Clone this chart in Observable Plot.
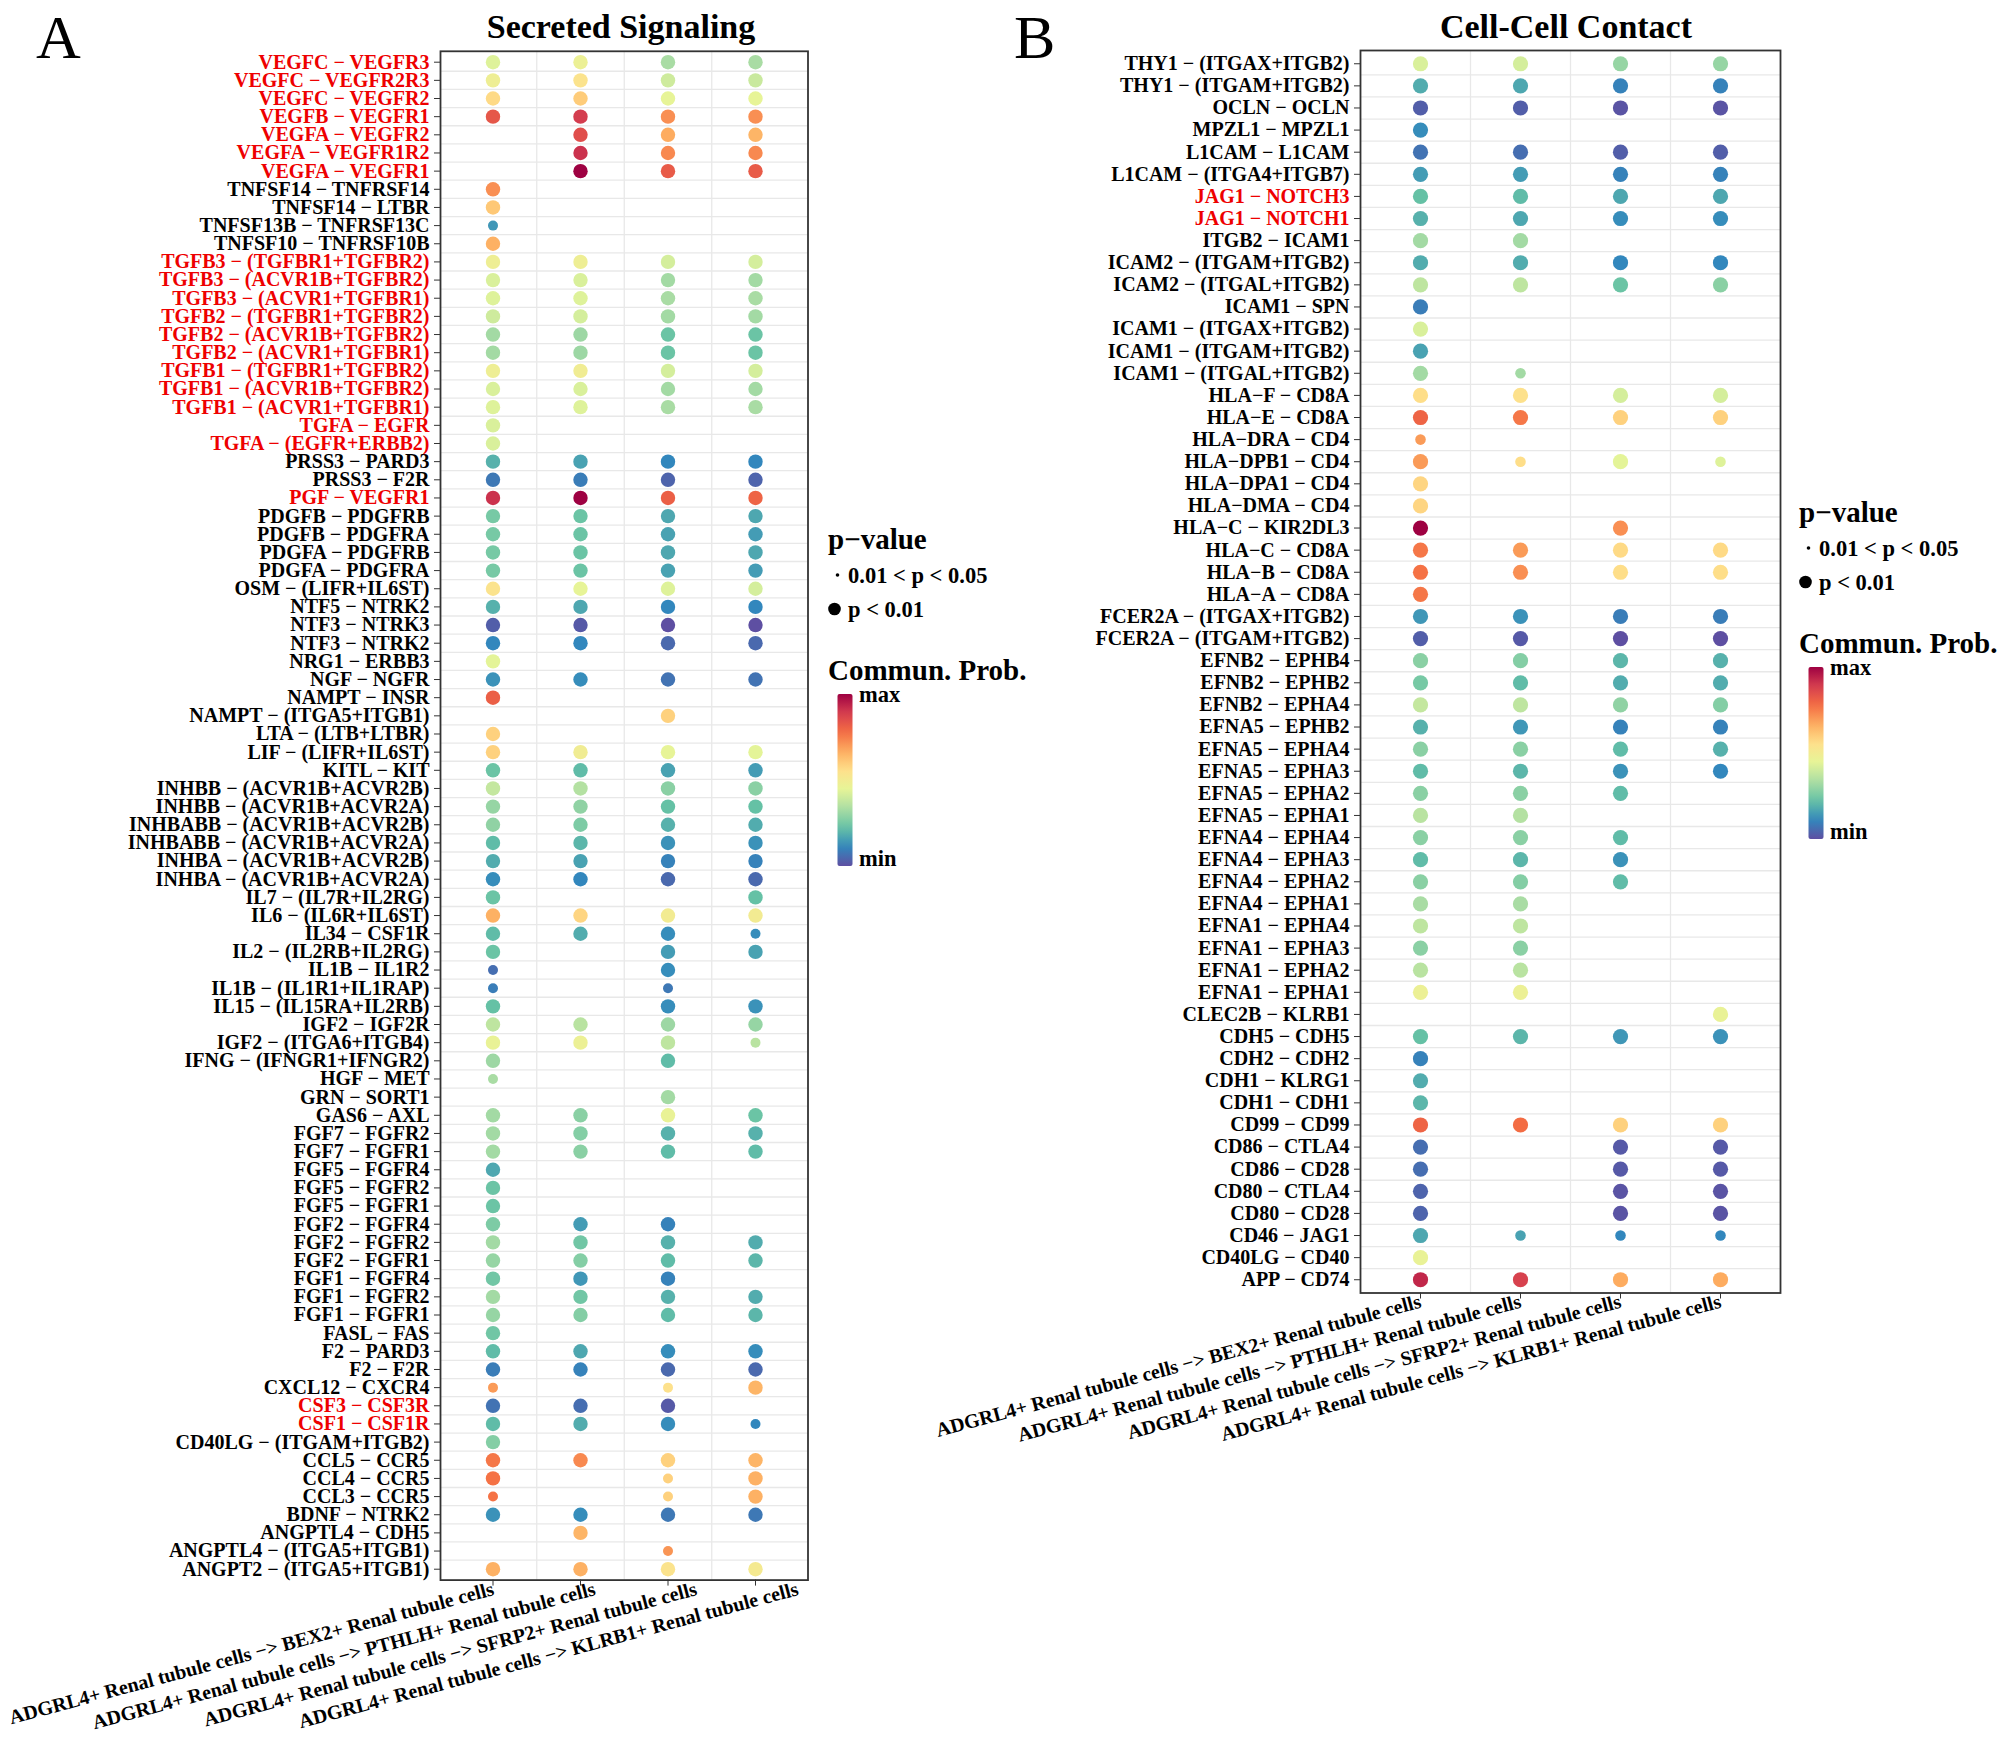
<!DOCTYPE html>
<html>
<head>
<meta charset="utf-8">
<script src="https://cdn.jsdelivr.net/npm/d3@7"></script>
<script src="https://cdn.jsdelivr.net/npm/@observablehq/plot@0.6"></script>
<style>
  body { margin: 0; background: #fff; }
  #root { position: relative; width: 2007px; height: 1742px; background: #fff; overflow: hidden; }
</style>
</head>
<body>
<div id="root"></div>
<script>
// ---------------- DATA ----------------
const targets = ["BEX2", "PTHLH", "SFRP2", "KLRB1"];
const targetLabels = targets.map(t => `ADGRL4+ Renal tubule cells \u2212> ${t}+ Renal tubule cells`);

const secretedPairsRaw = [
  "VEGFC - VEGFR3","VEGFC - VEGFR2R3","VEGFC - VEGFR2","VEGFB - VEGFR1","VEGFA - VEGFR2","VEGFA - VEGFR1R2","VEGFA - VEGFR1",
  "TNFSF14 - TNFRSF14","TNFSF14 - LTBR","TNFSF13B - TNFRSF13C","TNFSF10 - TNFRSF10B",
  "TGFB3 - (TGFBR1+TGFBR2)","TGFB3 - (ACVR1B+TGFBR2)","TGFB3 - (ACVR1+TGFBR1)",
  "TGFB2 - (TGFBR1+TGFBR2)","TGFB2 - (ACVR1B+TGFBR2)","TGFB2 - (ACVR1+TGFBR1)",
  "TGFB1 - (TGFBR1+TGFBR2)","TGFB1 - (ACVR1B+TGFBR2)","TGFB1 - (ACVR1+TGFBR1)",
  "TGFA - EGFR","TGFA - (EGFR+ERBB2)","PRSS3 - PARD3","PRSS3 - F2R","PGF - VEGFR1",
  "PDGFB - PDGFRB","PDGFB - PDGFRA","PDGFA - PDGFRB","PDGFA - PDGFRA","OSM - (LIFR+IL6ST)",
  "NTF5 - NTRK2","NTF3 - NTRK3","NTF3 - NTRK2","NRG1 - ERBB3","NGF - NGFR","NAMPT - INSR",
  "NAMPT - (ITGA5+ITGB1)","LTA - (LTB+LTBR)","LIF - (LIFR+IL6ST)","KITL - KIT",
  "INHBB - (ACVR1B+ACVR2B)","INHBB - (ACVR1B+ACVR2A)","INHBABB - (ACVR1B+ACVR2B)","INHBABB - (ACVR1B+ACVR2A)",
  "INHBA - (ACVR1B+ACVR2B)","INHBA - (ACVR1B+ACVR2A)","IL7 - (IL7R+IL2RG)","IL6 - (IL6R+IL6ST)",
  "IL34 - CSF1R","IL2 - (IL2RB+IL2RG)","IL1B - IL1R2","IL1B - (IL1R1+IL1RAP)","IL15 - (IL15RA+IL2RB)",
  "IGF2 - IGF2R","IGF2 - (ITGA6+ITGB4)","IFNG - (IFNGR1+IFNGR2)","HGF - MET","GRN - SORT1","GAS6 - AXL",
  "FGF7 - FGFR2","FGF7 - FGFR1","FGF5 - FGFR4","FGF5 - FGFR2","FGF5 - FGFR1",
  "FGF2 - FGFR4","FGF2 - FGFR2","FGF2 - FGFR1","FGF1 - FGFR4","FGF1 - FGFR2","FGF1 - FGFR1",
  "FASL - FAS","F2 - PARD3","F2 - F2R","CXCL12 - CXCR4","CSF3 - CSF3R","CSF1 - CSF1R",
  "CD40LG - (ITGAM+ITGB2)","CCL5 - CCR5","CCL4 - CCR5","CCL3 - CCR5","BDNF - NTRK2",
  "ANGPTL4 - CDH5","ANGPTL4 - (ITGA5+ITGB1)","ANGPT2 - (ITGA5+ITGB1)"
];
const secretedHighlightRaw = [
  "VEGFC - VEGFR3","VEGFC - VEGFR2R3","VEGFC - VEGFR2","VEGFB - VEGFR1","VEGFA - VEGFR2","VEGFA - VEGFR1R2","VEGFA - VEGFR1",
  "TGFB3 - (TGFBR1+TGFBR2)","TGFB3 - (ACVR1B+TGFBR2)","TGFB3 - (ACVR1+TGFBR1)",
  "TGFB2 - (TGFBR1+TGFBR2)","TGFB2 - (ACVR1B+TGFBR2)","TGFB2 - (ACVR1+TGFBR1)",
  "TGFB1 - (TGFBR1+TGFBR2)","TGFB1 - (ACVR1B+TGFBR2)","TGFB1 - (ACVR1+TGFBR1)",
  "TGFA - EGFR","TGFA - (EGFR+ERBB2)","PGF - VEGFR1","CSF3 - CSF3R","CSF1 - CSF1R"
];
// communication probability, scaled 0 (min) .. 1 (max); null = not significant
const secretedBEX2 = [.43,.48,.57,.83,null,null,null,.72,.61,.14, .66,.48,.42,.43,.40,.32,.32,.48,.42,.43,
  .42,.42,.19,.08,.91,.25,.25,.25,.25,.54, .19,.03,.11,.44,.13,.81,null,.59,.59,.23,
  .38,.30,.29,.21,.18,.12,.23,.66,.21,.23, .06,.09,.22,.37,.46,.31,.33,null,.32,.32,
  .32,.17,.23,.23,.26,.32,.30,.24,.32,.30, .24,.21,.09,.70,.07,.21,.27,.76,.77,.77, .13,null,null,.66];
const secretedPTHLH = [.47,.54,.60,.89,.85,.91,1.0,null,null,null, null,.48,.42,.43,.41,.31,.31,.49,.42,.43,
  null,null,.16,.09,1.0,.23,.23,.23,.23,.45, .17,.02,.11,null,.12,null,null,null,.49,.21,
  .35,.29,.26,.20,.16,.11,null,.58,.18,null, null,null,null,.36,.47,null,null,null,.28,.27,
  .28,null,null,null,.15,.24,.27,.14,.24,.27, null,.17,.10,null,.06,.18,null,.73,null,null, .12,.65,null,.66];
const secretedSFRP2 = [.33,.40,.45,.72,.67,.73,.82,null,null,null, null,.41,.32,.33,.32,.23,.23,.41,.32,.33,
  null,null,.11,.04,.81,.17,.16,.17,.16,.43, .11,.00,.05,null,.07,null,.59,null,.45,.16,
  .28,.22,.19,.13,.10,.05,null,.50,.12,.15, .12,.08,.12,.31,.37,.21,null,.32,.46,.19,
  .21,null,null,null,.10,.19,.21,.10,.19,.21, null,.12,.05,.55,.02,.12,null,.59,.59,.59, .08,null,.71,.54];
const secretedKLRB1 = [.33,.39,.45,.72,.65,.73,.82,null,null,null, null,.41,.32,.33,.32,.23,.23,.41,.32,.33,
  null,null,.11,.04,.80,.17,.15,.17,.15,.41, .11,.00,.05,null,.07,null,null,null,.44,.15,
  .28,.22,.18,.13,.10,.05,.22,.50,.12,.16, null,null,.13,.30,.36,null,null,null,.23,.19,
  .21,null,null,null,null,.18,.20,null,.18,.20, null,.12,.05,.65,null,.11,null,.65,.66,.66, .08,null,null,.51];
// 0.01 < p < 0.05 (all other shown dots: p < 0.01)
const secretedWeakRaw = [
  ["TNFSF13B - TNFRSF13C","BEX2"],["IL34 - CSF1R","KLRB1"],["IL1B - IL1R2","BEX2"],
  ["IL1B - (IL1R1+IL1RAP)","BEX2"],["IL1B - (IL1R1+IL1RAP)","SFRP2"],["IGF2 - (ITGA6+ITGB4)","KLRB1"],
  ["HGF - MET","BEX2"],["CXCL12 - CXCR4","BEX2"],["CXCL12 - CXCR4","SFRP2"],["CSF1 - CSF1R","KLRB1"],
  ["CCL4 - CCR5","SFRP2"],["CCL3 - CCR5","BEX2"],["CCL3 - CCR5","SFRP2"],["ANGPTL4 - (ITGA5+ITGB1)","SFRP2"]
];

const contactPairsRaw = [
  "THY1 - (ITGAX+ITGB2)","THY1 - (ITGAM+ITGB2)","OCLN - OCLN","MPZL1 - MPZL1","L1CAM - L1CAM",
  "L1CAM - (ITGA4+ITGB7)","JAG1 - NOTCH3","JAG1 - NOTCH1","ITGB2 - ICAM1","ICAM2 - (ITGAM+ITGB2)",
  "ICAM2 - (ITGAL+ITGB2)","ICAM1 - SPN","ICAM1 - (ITGAX+ITGB2)","ICAM1 - (ITGAM+ITGB2)","ICAM1 - (ITGAL+ITGB2)",
  "HLA-F - CD8A","HLA-E - CD8A","HLA-DRA - CD4","HLA-DPB1 - CD4","HLA-DPA1 - CD4","HLA-DMA - CD4",
  "HLA-C - KIR2DL3","HLA-C - CD8A","HLA-B - CD8A","HLA-A - CD8A","FCER2A - (ITGAX+ITGB2)","FCER2A - (ITGAM+ITGB2)",
  "EFNB2 - EPHB4","EFNB2 - EPHB2","EFNB2 - EPHA4","EFNA5 - EPHB2","EFNA5 - EPHA4","EFNA5 - EPHA3",
  "EFNA5 - EPHA2","EFNA5 - EPHA1","EFNA4 - EPHA4","EFNA4 - EPHA3","EFNA4 - EPHA2","EFNA4 - EPHA1",
  "EFNA1 - EPHA4","EFNA1 - EPHA3","EFNA1 - EPHA2","EFNA1 - EPHA1","CLEC2B - KLRB1","CDH5 - CDH5",
  "CDH2 - CDH2","CDH1 - KLRG1","CDH1 - CDH1","CD99 - CD99","CD86 - CTLA4","CD86 - CD28",
  "CD80 - CTLA4","CD80 - CD28","CD46 - JAG1","CD40LG - CD40","APP - CD74"
];
const contactHighlightRaw = ["JAG1 - NOTCH3","JAG1 - NOTCH1"];
const contactBEX2 = [.42,.18,.03,.12,.07,.15,.22,.19,.32,.18, .37,.09,.42,.16,.32,.56,.80,.70,.70,.58,
  .58,1.0,.76,.77,.76,.14,.03,.28,.25,.38, .19,.28,.21,.28,.36,.28,.21,.28,.33,.37,
  .28,.36,.47,null,.22,.10,.18,.20,.80,.06, .06,.04,.04,.17,.46,.93];
const contactPTHLH = [.41,.17,.03,null,.06,.15,.21,.17,.32,.18, .37,null,null,null,.32,.55,.76,null,.56,null,
  null,null,.70,.72,null,.13,.02,.27,.21,.37, .14,.28,.20,.28,.35,.28,.20,.27,.33,.37,
  .28,.36,.47,null,.20,null,null,null,.78,null, null,null,null,.16,null,.88];
const contactSFRP2 = [.30,.10,.01,null,.03,.10,.17,.12,null,.11, .23,null,null,null,null,.41,.59,null,.44,null,
  null,.72,.57,.56,null,.09,.00,.20,.18,.29, .10,.21,.13,.21,null,.21,.13,.21,null,null,
  null,null,null,null,.14,null,null,null,.59,.02, .02,.01,.01,.11,null,.67];
const contactKLRB1 = [.30,.10,.01,null,.03,.10,.17,.12,null,.11, .28,null,null,null,null,.41,.59,null,.43,null,
  null,null,.57,.56,null,.09,.00,.19,.18,.27, .10,.19,.11,null,null,null,null,null,null,null,
  null,null,null,.46,.13,null,null,null,.59,.02, .02,.01,.01,.11,null,.67];
const contactWeakRaw = [
  ["ICAM1 - (ITGAL+ITGB2)","PTHLH"],["HLA-DRA - CD4","BEX2"],["HLA-DPB1 - CD4","PTHLH"],
  ["HLA-DPB1 - CD4","KLRB1"],["CD46 - JAG1","PTHLH"],["CD46 - JAG1","SFRP2"],["CD46 - JAG1","KLRB1"]
];

// Reversed RColorBrewer Spectral (10), as used by CellChat
const spectralColors = ["#5E4FA2","#3288BD","#66C2A5","#ABDDA4","#E6F598","#FEE08B","#FDAE61","#F46D43","#D53E4F","#9E0142"];

// ---------------- BUILD ----------------
const minus = s => s.replaceAll("-", "\u2212");
const spectral = d3.piecewise(d3.interpolateRgb, spectralColors);
const FONT = "'Liberation Serif', 'Times New Roman', Times, serif";
const xLabelOpts = {tickFormat: i => targetLabels[i - 1], tickRotate: -15, textAnchor: "end",
  fontSize: 20, fontWeight: "bold", fill: "black", label: null};

function panel({pairsRaw, highlightRaw, values, weakRaw, left, width, height, margins, rBig, rSmall, xText}) {
  const pairs = pairsRaw.map(minus);
  const highlight = new Set(highlightRaw.map(minus));
  const weak = new Set(weakRaw.map(([p, t]) => minus(p) + "|" + t));
  const n = pairs.length, k = targets.length;
  const dots = [];
  pairs.forEach((p, i) => targets.forEach((t, j) => {
    const v = values[j][i];
    if (v == null) return;
    dots.push({pair: p, target: t, row: i + 1, col: j + 1, prob: v, weak: weak.has(p + "|" + t)});
  }));
  const labels = pairs.map((p, i) => ({pair: p, row: i + 1, red: highlight.has(p)}));
  const lblOpts = {y: "row", text: "pair", frameAnchor: "left", textAnchor: "end", dx: -11,
    fontSize: 20, fontWeight: "bold"};
  return Plot.plot({
    width, height, ...margins,
    style: {fontFamily: FONT, overflow: "visible", background: "transparent", maxWidth: "none",
      position: "absolute", left: left + "px", top: "0px"},
    x: {type: "linear", domain: [0.4, k + 0.6], label: null},
    y: {type: "linear", domain: [n + 0.6, 0.4], label: null},
    color: {type: "linear", domain: [0, 1], interpolate: spectral},
    marks: [
      Plot.ruleX(d3.range(1, k), {x: i => i + 0.5, stroke: "#e8e8e8", strokeWidth: 1.3}),
      Plot.ruleY(d3.range(1, n), {y: i => i + 0.5, stroke: "#e8e8e8", strokeWidth: 1.3}),
      Plot.dot(dots.filter(d => !d.weak), {x: "col", y: "row", r: rBig, fill: "prob"}),
      Plot.dot(dots.filter(d => d.weak), {x: "col", y: "row", r: rSmall, fill: "prob"}),
      Plot.frame({stroke: "#333", strokeWidth: 1.8}),
      xText
        ? Plot.axisX(d3.range(1, k + 1), {...xLabelOpts, tickSize: 6, tickPadding: 2, stroke: "#333"})
        : Plot.axisX(d3.range(1, k + 1), {tickFormat: () => "", tickSize: 6, stroke: "#333", label: null}),
      Plot.axisY(d3.range(1, n + 1), {tickFormat: () => "", tickSize: 6, stroke: "#333", label: null}),
      Plot.text(labels.filter(d => !d.red), {...lblOpts, fill: "black"}),
      Plot.text(labels.filter(d => d.red), {...lblOpts, fill: "#ee0000"})
    ]
  });
}

const root = document.getElementById("root");

// Panel A
root.appendChild(panel({
  pairsRaw: secretedPairsRaw, highlightRaw: secretedHighlightRaw,
  values: [secretedBEX2, secretedPTHLH, secretedSFRP2, secretedKLRB1], weakRaw: secretedWeakRaw,
  left: 0, width: 820, height: 1742,
  margins: {marginLeft: 440, marginRight: 12.5, marginTop: 50.8, marginBottom: 162.4},
  rBig: 7.2, rSmall: 5, xText: false
}));
// Panel A target labels: in the reference they are laid out on a wider pitch than the panel's ticks
root.appendChild(Plot.plot({
  width: 426.3, height: 170, marginLeft: 0, marginRight: 0, marginTop: 0, marginBottom: 160,
  style: {fontFamily: FONT, overflow: "visible", background: "transparent", maxWidth: "none",
    position: "absolute", left: "431.6px", top: "1570px"},
  x: {type: "linear", domain: [0.4, targets.length + 0.6], label: null},
  marks: [Plot.axisX(d3.range(1, targets.length + 1), {...xLabelOpts, tickSize: 0, tickPadding: 8})]
}));

// Panel B
root.appendChild(panel({
  pairsRaw: contactPairsRaw, highlightRaw: contactHighlightRaw,
  values: [contactBEX2, contactPTHLH, contactSFRP2, contactKLRB1], weakRaw: contactWeakRaw,
  left: 1040, width: 750, height: 1742,
  margins: {marginLeft: 320, marginRight: 10, marginTop: 50, marginBottom: 449.5},
  rBig: 7.6, rSmall: 5.3, xText: true
}));

// ---------------- TITLES & LEGENDS ----------------
const ov = d3.create("svg").attr("width", 2007).attr("height", 1742)
  .style("position", "absolute").style("left", "0px").style("top", "0px")
  .style("pointer-events", "none").attr("font-family", FONT);

const grad = ov.append("defs").append("linearGradient").attr("id", "cpgrad")
  .attr("x1", 0).attr("y1", 1).attr("x2", 0).attr("y2", 0);
d3.range(0, 1.0001, 0.05).forEach(t => grad.append("stop").attr("offset", t).attr("stop-color", spectral(t)));

function txt(x, y, s, size, weight, anchor = "start") {
  ov.append("text").attr("x", x).attr("y", y).attr("font-size", size).attr("font-weight", weight)
    .attr("text-anchor", anchor).attr("fill", "black").text(s);
}
txt(36, 58, "A", 62, "normal");
txt(1014, 58, "B", 62, "normal");
txt(621, 38, "Secreted Signaling", 34, "bold", "middle");
txt(1566, 38, "Cell-Cell Contact", 34, "bold", "middle");

function legend(x0, base) {
  // base: baseline of the "p−value" title
  txt(x0, base, "p\u2212value", 29, "bold");
  ov.append("circle").attr("cx", x0 + 9.5).attr("cy", base + 26).attr("r", 1.8).attr("fill", "black");
  txt(x0 + 20, base + 34, "0.01 < p < 0.05", 22.5, "bold");
  ov.append("circle").attr("cx", x0 + 6.5).attr("cy", base + 60).attr("r", 6.3).attr("fill", "black");
  txt(x0 + 20, base + 68, "p < 0.01", 22.5, "bold");
  txt(x0, base + 131, "Commun. Prob.", 29, "bold");
  ov.append("rect").attr("x", x0 + 9.5).attr("y", base + 145).attr("width", 15).attr("height", 172)
    .attr("rx", 2).attr("fill", "url(#cpgrad)");
  txt(x0 + 31, base + 153, "max", 22.5, "bold");
  txt(x0 + 31, base + 317, "min", 22.5, "bold");
}
legend(828, 549);
legend(1799, 522);

root.appendChild(ov.node());
</script>
</body>
</html>
